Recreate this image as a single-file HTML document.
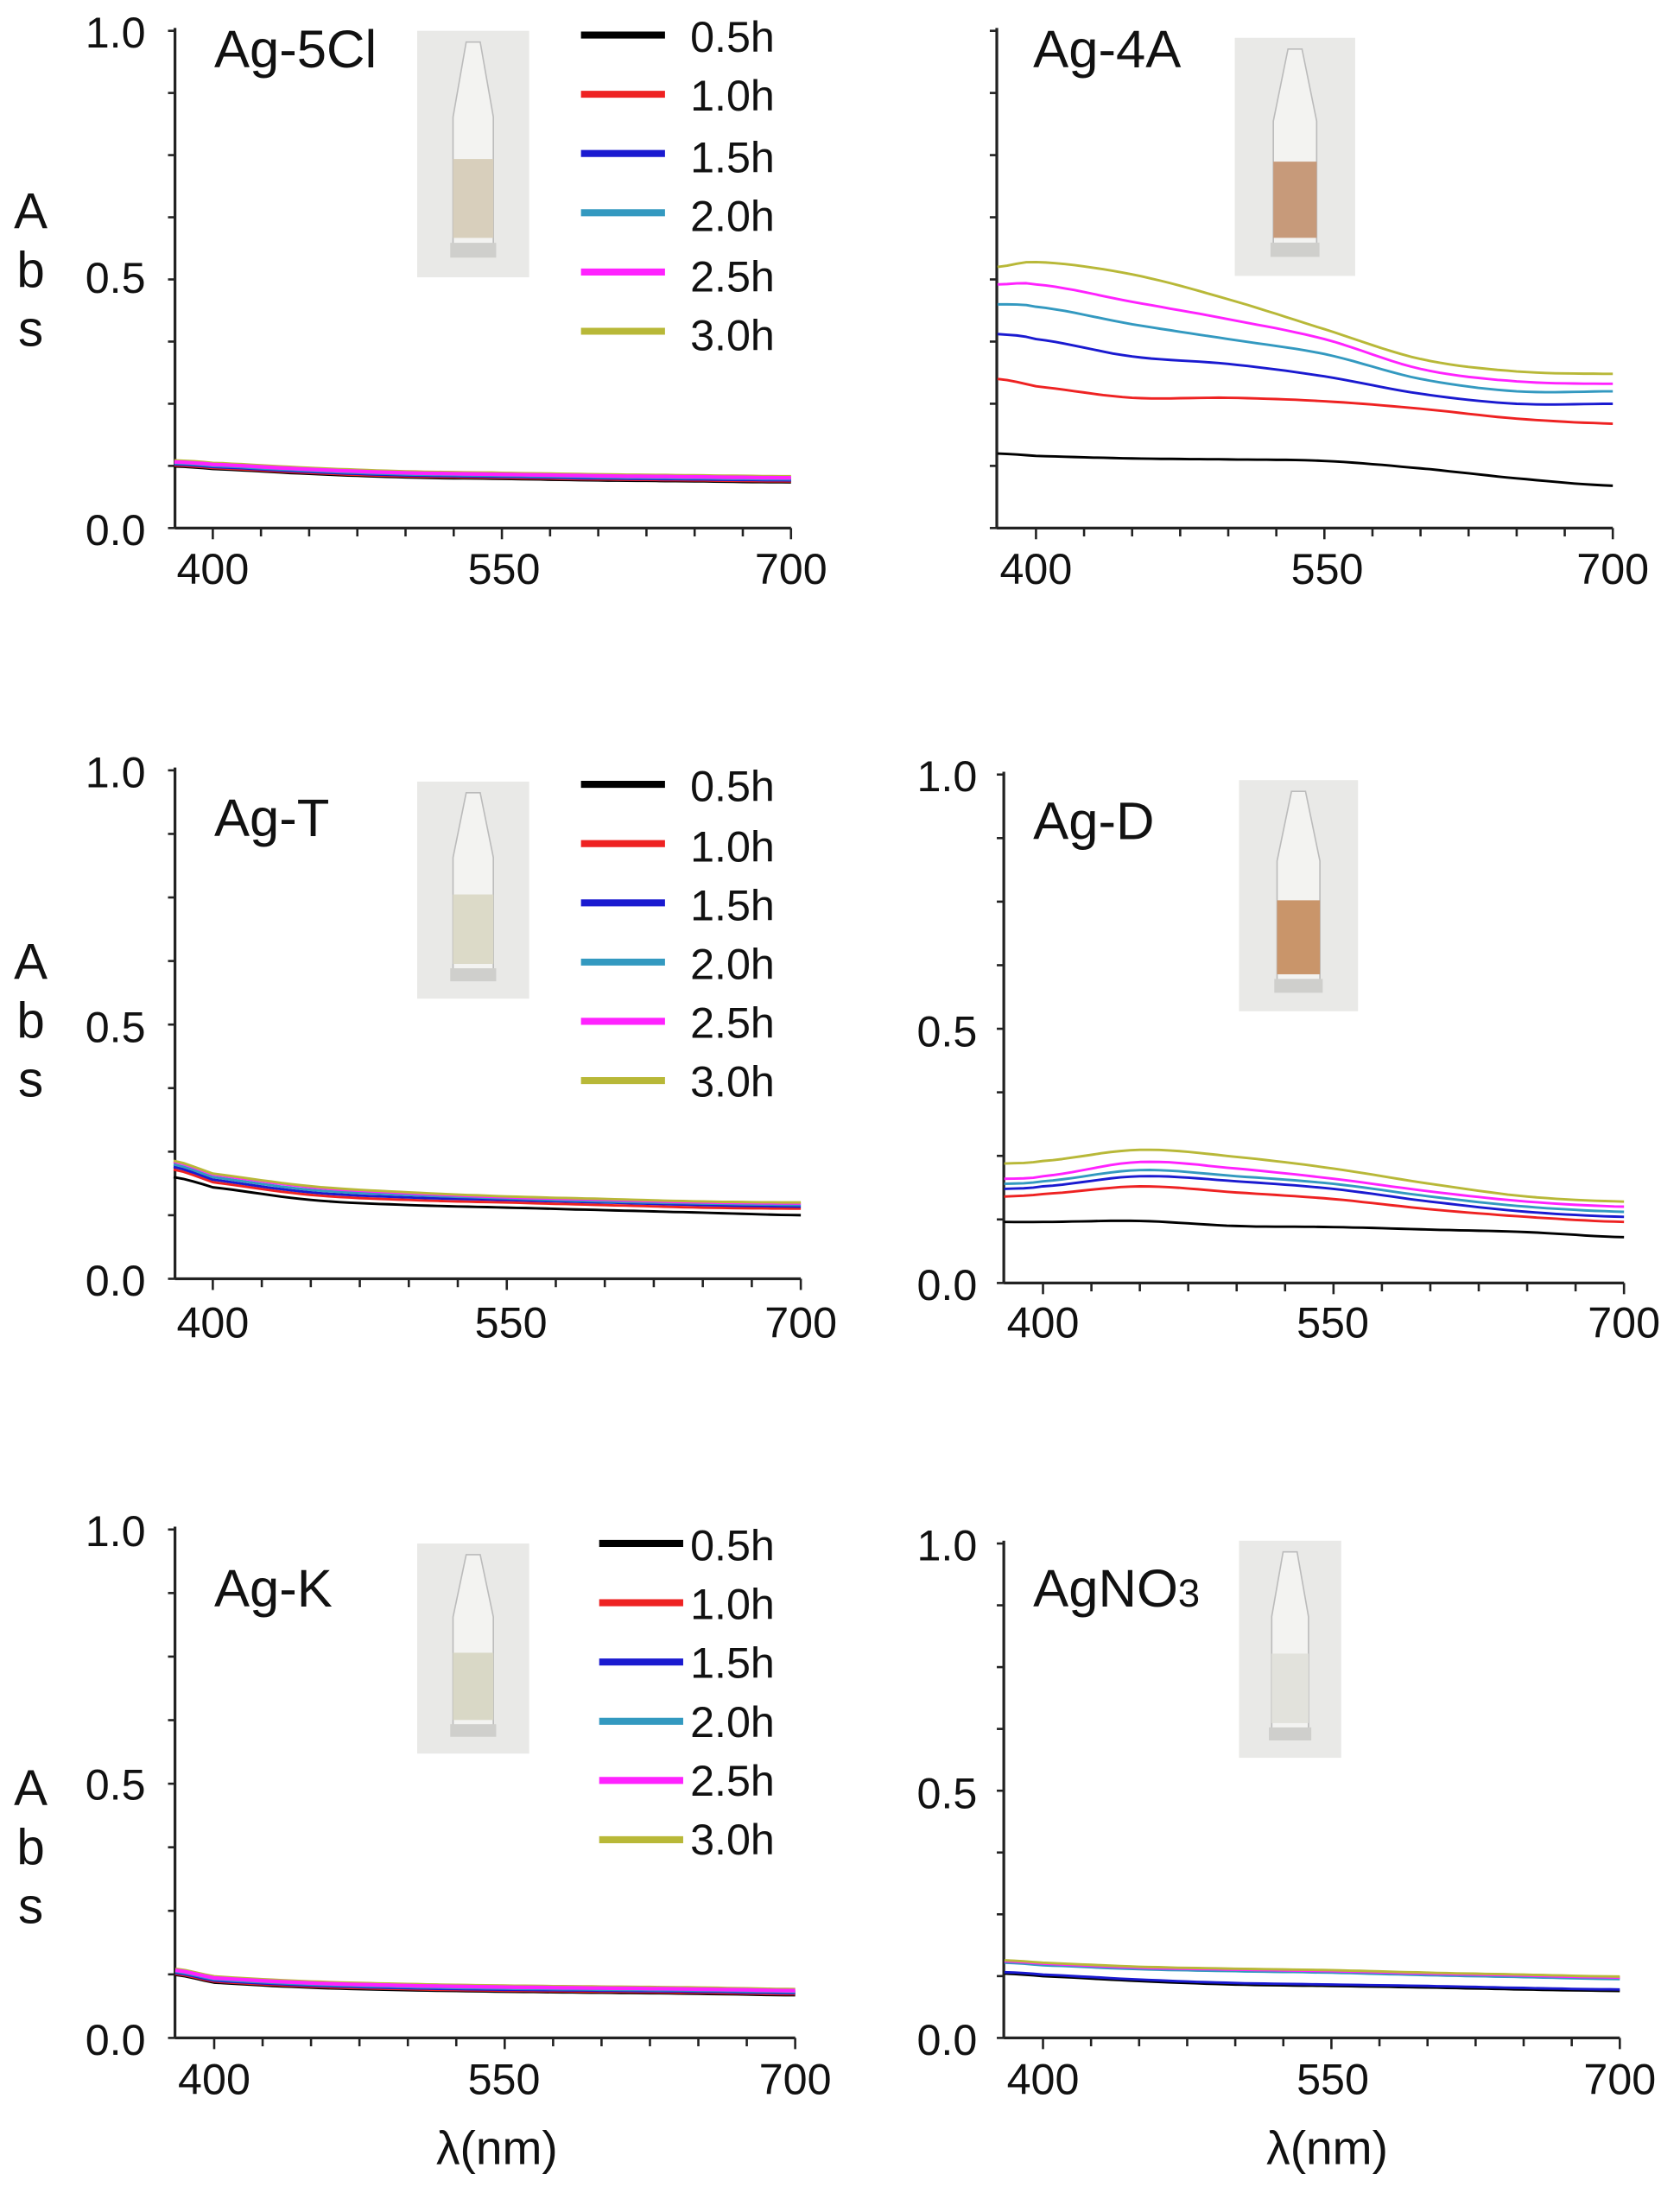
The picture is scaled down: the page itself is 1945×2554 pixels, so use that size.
<!DOCTYPE html>
<html><head><meta charset="utf-8"><style>
html,body{margin:0;padding:0;background:#fff}
svg{display:block}
text{font-family:"Liberation Sans",Arial,sans-serif;fill:#111}
</style></head><body>
<svg id="s" width="1945" height="2554" viewBox="0 0 1200 1575" preserveAspectRatio="none" xmlns="http://www.w3.org/2000/svg">
<g id="g"></g>
<g font-size="31" text-anchor="end">
<text x="104" y="34">1.0</text><text x="104" y="209">0.5</text><text x="104" y="389">0.0</text>
<text x="104" y="562">1.0</text><text x="104" y="744">0.5</text><text x="104" y="925">0.0</text>
<text x="104" y="1104">1.0</text><text x="104" y="1285">0.5</text><text x="104" y="1467">0.0</text>
<text x="698" y="565">1.0</text><text x="698" y="747">0.5</text><text x="698" y="928">0.0</text>
<text x="698" y="1114">1.0</text><text x="698" y="1291">0.5</text><text x="698" y="1467">0.0</text>
</g>
<g font-size="36" text-anchor="middle">
<text x="22" y="163">A</text><text x="22" y="205">b</text><text x="22" y="247">s</text>
<text x="22" y="699">A</text><text x="22" y="741">b</text><text x="22" y="783">s</text>
<text x="22" y="1289">A</text><text x="22" y="1331">b</text><text x="22" y="1373">s</text>
</g>
<g font-size="31" text-anchor="middle">
<text x="152" y="417">400</text><text x="360" y="417">550</text><text x="565" y="417">700</text>
<text x="740" y="417">400</text><text x="948" y="417">550</text><text x="1152" y="417">700</text>
<text x="152" y="955">400</text><text x="365" y="955">550</text><text x="572" y="955">700</text>
<text x="745" y="955">400</text><text x="952" y="955">550</text><text x="1160" y="955">700</text>
<text x="153" y="1495">400</text><text x="360" y="1495">550</text><text x="568" y="1495">700</text>
<text x="745" y="1495">400</text><text x="952" y="1495">550</text><text x="1157" y="1495">700</text>
<text x="355" y="1545" font-size="34">λ(nm)</text><text x="948" y="1545" font-size="34">λ(nm)</text>
</g>
<g font-size="38">
<text x="153" y="48">Ag-5Cl</text><text x="738" y="48">Ag-4A</text>
<text x="153" y="597">Ag-T</text><text x="738" y="599">Ag-D</text>
<text x="153" y="1147">Ag-K</text><text x="738" y="1147">AgNO<tspan font-size="28">3</tspan></text>
</g>
<g font-size="31">
<text x="493" y="37">0.5h</text><text x="493" y="79">1.0h</text><text x="493" y="123">1.5h</text><text x="493" y="165">2.0h</text><text x="493" y="208">2.5h</text><text x="493" y="250">3.0h</text>
<text x="493" y="572">0.5h</text><text x="493" y="615">1.0h</text><text x="493" y="657">1.5h</text><text x="493" y="699">2.0h</text><text x="493" y="741">2.5h</text><text x="493" y="783">3.0h</text>
<text x="493" y="1114">0.5h</text><text x="493" y="1156">1.0h</text><text x="493" y="1198">1.5h</text><text x="493" y="1240">2.0h</text><text x="493" y="1282">2.5h</text><text x="493" y="1324">3.0h</text>
</g>
</svg>
<script>
var g=document.getElementById('g'),ns='http://www.w3.org/2000/svg';
function el(t,a){var e=document.createElementNS(ns,t);for(var k in a)e.setAttribute(k,a[k]);g.appendChild(e);return e;}
var C=['#000','#ee2222','#1a1ad0','#3399c0','#ff22ff','#b8b838'];
var nmX=[380,400,450,500,550,600,650,700];
var P=[
{ax:125,x4:152,x7:565,y0:377,y1:22,s:[[.13,.125,.115,.108,.105,.102,.1,.098]]},
{ax:712,x4:740,x7:1152,y0:377,y1:22,s:[
 [.15,.145,.14,.138,.135,.12,.1,.085],
 [.30,.285,.262,.262,.255,.24,.22,.21],
 [.39,.38,.345,.33,.305,.27,.25,.25],
 [.45,.445,.41,.38,.35,.3,.275,.275],
 [.49,.49,.455,.42,.38,.32,.295,.29],
 [.525,.535,.51,.46,.40,.34,.315,.31]]},
{ax:125,x4:152,x7:572,y0:913,y1:550,s:[
 [.20,.18,.155,.145,.14,.135,.13,.125],[.215,.19,.165,.155,.15,.145,.14,.138],
 [.22,.195,.17,.16,.155,.15,.145,.142],[.225,.2,.175,.165,.158,.152,.148,.145],
 [.23,.205,.18,.168,.16,.155,.15,.148],[.232,.207,.182,.17,.162,.157,.152,.15]]},
{ax:717,x4:745,x7:1160,y0:916,y1:553,s:[
 [.12,.12,.122,.112,.11,.105,.1,.09],[.17,.175,.19,.178,.165,.145,.13,.12],
 [.185,.19,.21,.2,.185,.16,.14,.13],[.195,.2,.222,.21,.195,.17,.15,.14],
 [.205,.21,.238,.225,.205,.18,.16,.15],[.235,.24,.262,.248,.225,.195,.17,.16]]},
{ax:125,x4:153,x7:568,y0:1455,y1:1092,s:[[.13,.115,.105,.1,.097,.095,.093,.09]]},
{ax:717,x4:745,x7:1157,y0:1455,y1:1102,s:[
 [.13,.125,.115,.108,.105,.102,.098,.095],[.155,.15,.142,.138,.135,.13,.126,.122]]}
];
function interp(vals){var out=[];for(var n=380;n<=700;n+=5){var j=0;while(j<nmX.length-2&&n>nmX[j+1])j++;
 var t=(n-nmX[j])/(nmX[j+1]-nmX[j]);var a=vals[j],b=vals[j+1];
 var p0=vals[Math.max(j-1,0)],p3=vals[Math.min(j+2,vals.length-1)];
 var t2=t*t,t3=t2*t;var v=0.5*((2*a)+(-p0+b)*t+(2*p0-5*a+4*b-p3)*t2+(-p0+3*a-3*b+p3)*t3);out.push([n,v]);}return out;}
P.forEach(function(p,i){
 var sx=(p.x7-p.x4)/300,xr=p.x7;
 function X(n){return p.x4+(n-400)*sx;}
 function Y(v){return p.y0-(p.y0-p.y1)*v;}
 el('line',{x1:p.ax,y1:p.y1-2,x2:p.ax,y2:p.y0,stroke:'#222','stroke-width':2});
 el('line',{x1:p.ax,y1:p.y0,x2:xr,y2:p.y0,stroke:'#222','stroke-width':2});
 for(var k=0;k<=8;k++){var y=Y(k*.125);el('line',{x1:p.ax-5,y1:y,x2:p.ax,y2:y,stroke:'#222','stroke-width':1.6});}
 for(var n=400;n<=700;n+=25){var x=X(n),L=(n%150==100)?8:6;el('line',{x1:x,y1:p.y0,x2:x,y2:p.y0+L,stroke:'#222','stroke-width':1.6});}
 var ser=p.s;
 if(ser.length==1){ser=[];for(var c=0;c<6;c++)ser.push(p.s[0].map(function(v){return v+(c-2.5)*.002;}));}
 if(i==5){ser=[p.s[0],p.s[1],p.s[0].map(function(v){return v+.003}),p.s[1].map(function(v){return v-.003}),p.s[1],p.s[1].map(function(v){return v+.002})];}
 var order=(i==0||i==4)?[0,1,2,3,5,4]:[0,1,2,3,4,5];
 order.forEach(function(c){var d='';interp(ser[c]).forEach(function(q,j){d+=(j?'L':'M')+X(q[0]).toFixed(1)+','+Y(q[1]).toFixed(1);});
  el('path',{d:d,fill:'none',stroke:C[c],'stroke-width':(i==0||i==4)?2.6:1.8,'stroke-linejoin':'round'});});
});
[[415,475,25],[415,475,560],[428,488,1102]].forEach(function(l){for(var c=0;c<6;c++){var y=l[2]+c*42.3;el('line',{x1:l[0],y1:y,x2:l[1],y2:y,stroke:C[c],'stroke-width':5});}});
[[298,22,80,176,'#d8cfbc'],[882,27,86,170,'#c79a7a'],[298,558,80,155,'#dcdac8'],[885,557,85,165,'#c9956a'],[298,1102,80,150,'#d9d8c6'],[885,1100,73,155,'#e2e2dc']].forEach(function(b){
 var x=b[0],y=b[1],w=b[2],h=b[3];
 el('rect',{x:x,y:y,width:w,height:h,fill:'#e9e9e7'});
 var cx=x+w/2,bw=w*0.36;
 el('path',{d:'M'+(cx-5)+','+(y+8)+' L'+(cx+5)+','+(y+8)+' L'+(cx+bw/2)+','+(y+h*0.35)+' L'+(cx+bw/2)+','+(y+h*0.9)+' L'+(cx-bw/2)+','+(y+h*0.9)+' L'+(cx-bw/2)+','+(y+h*0.35)+'Z',fill:'#f3f3f1',stroke:'#bbb','stroke-width':1});
 el('rect',{x:cx-bw/2,y:y+h*0.52,width:bw,height:h*0.32,fill:b[4]});
 el('rect',{x:cx-bw/2-2,y:y+h*0.86,width:bw+4,height:h*0.06,fill:'#cfcfcc'});
});
</script>
</body></html>
